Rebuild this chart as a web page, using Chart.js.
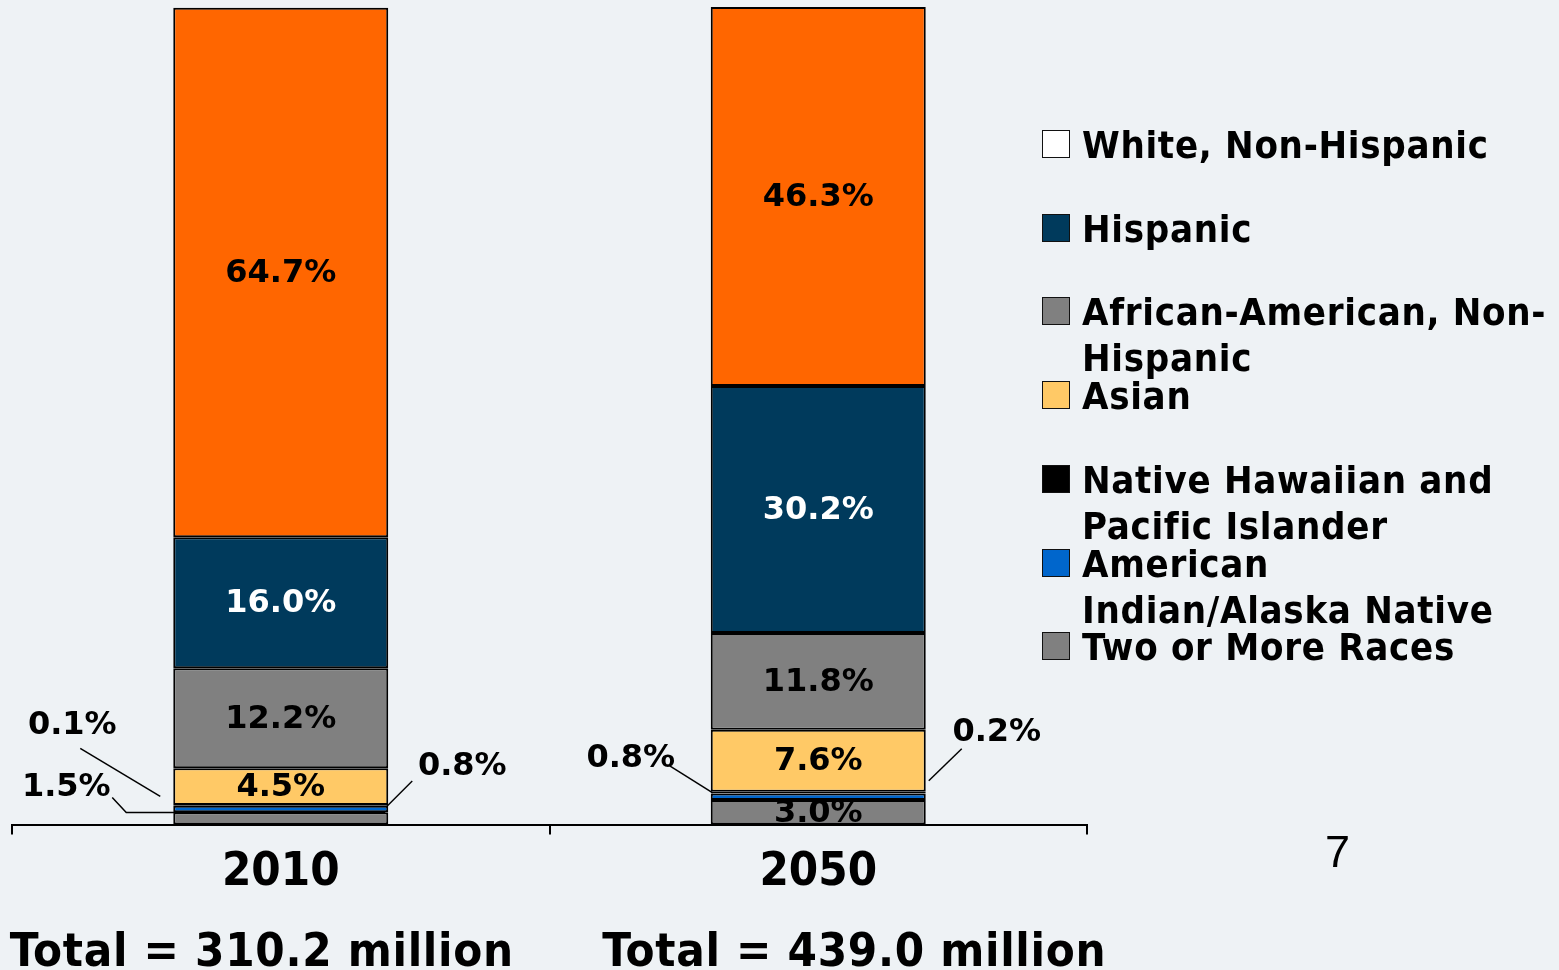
<!DOCTYPE html>
<html>
<head>
<meta charset="utf-8">
<title>Population by race and ethnicity, 2010 and 2050</title>
<script src="https://cdn.jsdelivr.net/npm/chart.js@4.4.1/dist/chart.umd.min.js"></script>
<style>
  html, body { margin: 0; padding: 0; background: #eef2f5; }
  body {
    width: 1559px; height: 970px; position: relative; overflow: hidden;
    font-family: "DejaVu Sans Condensed", "DejaVu Sans", sans-serif;
  }
  #chart-wrap { position: absolute; left: 0; top: 0; width: 1559px; height: 970px; }
  .legend { position: absolute; left: 1042px; top: 130px; }
  .legend-item { position: absolute; left: 0; }
  .legend-swatch {
    position: absolute; left: 0; top: 0; width: 26px; height: 26px;
    border: 1px solid #111;
  }
  .legend-text {
    position: absolute; left: 40px; top: -8px; white-space: nowrap;
    font-weight: bold; font-size: 38px; line-height: 46px; color: #000;
    letter-spacing: 0.7px;
  }
  .slide-no {
    position: absolute; left: 1325px; top: 826px;
    font-family: "Liberation Sans", Arial, sans-serif; font-size: 45px; color: #000;
  }
</style>
</head>
<body>
<div id="chart-wrap"><canvas id="race-chart"></canvas></div>
<div class="legend" id="legend"></div>
<div class="slide-no">7</div>
<script>
const FONT = '"DejaVu Sans Condensed", "DejaVu Sans", sans-serif';
const WIDE_FONT = '"DejaVu Sans", sans-serif';

// categories and totals
const years = ["2010", "2050"];
const totals = ["Total = 310.2 million", "Total = 439.0 million"];

// percent shares, stacked bottom to top
const twoOrMore = [1.5, 3.0];
const amIndian = [0.8, 0.8];
const hawaiian = [0.1, 0.2];
const asian = [4.5, 7.6];
const africanAm = [12.2, 11.8];
const hispanic = [16.0, 30.2];
const whiteNH = [64.7, 46.3];

const seriesNames = [
  ["Two or More Races"],
  ["American", "Indian/Alaska Native"],
  ["Native Hawaiian and", "Pacific Islander"],
  ["Asian"],
  ["African-American, Non-", "Hispanic"],
  ["Hispanic"],
  ["White, Non-Hispanic"],
];
const seriesValues = [twoOrMore, amIndian, hawaiian, asian, africanAm, hispanic, whiteNH];
const barColors = ["#808080", "#0066cc", "#000000", "#ffc966", "#808080", "#003a5c", "#ff6600"];
const swatchColors = ["#808080", "#0066cc", "#000000", "#ffc966", "#808080", "#003a5c", "#ffffff"];
const labelColors = ["#000", "#000", "#000", "#000", "#000", "#fff", "#000"];

// small slices get a leader line instead of an inside label
const INSIDE_MIN = 2.5;
const callouts = [
  { series: 0, year: 0, side: "left", text: [-107, -31], path: [[-61, -21], [-47, -6], [212, -6]] },
  { series: 1, year: 0, side: "right", text: [74, -42], path: [[24, -28], [-2, -2]] },
  { series: 2, year: 0, side: "left", text: [-101, -80], path: [[-93, -57], [-13, -9]] },
  { series: 1, year: 1, side: "left", text: [-80, -38], path: [[-41, -31], [2, -4]] },
  { series: 2, year: 1, side: "right", text: [71, -60], path: [[36, -44], [3, -12]] },
];

function pct(v) {
  return v.toFixed(1) + "%";
}

const segmentLabels = {
  id: "segmentLabels",
  afterDatasetsDraw(chart) {
    const { ctx, chartArea } = chart;
    ctx.save();
    ctx.font = `bold 32px ${WIDE_FONT}`;
    ctx.textAlign = "center";
    ctx.textBaseline = "middle";

    // inside labels, clipped to the plot so the lowest one sinks under the axis
    ctx.save();
    ctx.beginPath();
    ctx.rect(chartArea.left, chartArea.top, chartArea.right - chartArea.left, chartArea.bottom - chartArea.top);
    ctx.clip();
    chart.data.datasets.forEach((ds, di) => {
      chart.getDatasetMeta(di).data.forEach((bar, i) => {
        const v = ds.data[i];
        if (v < INSIDE_MIN) return;
        ctx.fillStyle = labelColors[di];
        ctx.fillText(pct(v), bar.x, (bar.y + bar.base) / 2 + 1);
      });
    });
    ctx.restore();

    // leader lines for the thin slices
    ctx.strokeStyle = "#000";
    ctx.lineWidth = 1.5;
    ctx.fillStyle = "#000";
    callouts.forEach((c) => {
      const bar = chart.getDatasetMeta(c.series).data[c.year];
      const ax = c.side === "left" ? bar.x - bar.width / 2 : bar.x + bar.width / 2;
      const ay = (bar.y + bar.base) / 2;
      ctx.beginPath();
      c.path.forEach(([dx, dy], k) => {
        if (k === 0) ctx.moveTo(ax + dx, ay + dy);
        else ctx.lineTo(ax + dx, ay + dy);
      });
      ctx.stroke();
      ctx.fillText(pct(seriesValues[c.series][c.year]), ax + c.text[0], ay + c.text[1]);
    });
    ctx.restore();
  },
};

const totalLabels = {
  id: "totalLabels",
  afterDraw(chart) {
    const { ctx } = chart;
    const x = chart.scales.x;
    const shift = [-19, 36];
    ctx.save();
    ctx.font = `bold 47px ${FONT}`;
    ctx.letterSpacing = "0.7px";
    ctx.fillStyle = "#000";
    ctx.textAlign = "center";
    ctx.textBaseline = "alphabetic";
    totals.forEach((t, i) => {
      ctx.fillText(t, x.getPixelForValue(i) + shift[i], 966);
    });
    ctx.restore();
  },
};

function buildLegend() {
  const root = document.getElementById("legend");
  const order = [6, 5, 4, 3, 2, 1, 0];
  order.forEach((si, row) => {
    const item = document.createElement("div");
    item.className = "legend-item";
    item.style.top = `${row * 83.7}px`;
    item.innerHTML = `
      <div class="legend-swatch" style="background:${swatchColors[si]}"></div>
      <div class="legend-text">${seriesNames[si].join("<br>")}</div>
    `;
    root.appendChild(item);
  });
}

function renderChart() {
  const canvas = document.getElementById("race-chart");
  new Chart(canvas, {
    type: "bar",
    data: {
      labels: years,
      datasets: seriesValues.map((vals, i) => ({
        label: seriesNames[i].join(" "),
        data: vals,
        backgroundColor: barColors[i],
        borderColor: "#000",
        borderWidth: 2,
        borderSkipped: false,
        barPercentage: 0.4,
        categoryPercentage: 1,
      })),
    },
    options: {
      responsive: true,
      maintainAspectRatio: false,
      animation: false,
      layout: { padding: { left: 12, right: 472, top: 7, bottom: 59 } },
      plugins: { legend: { display: false }, tooltip: { enabled: false } },
      scales: {
        x: {
          stacked: true,
          grid: { display: true, drawOnChartArea: false, drawTicks: true, tickLength: 10, color: "#000", lineWidth: 2, offset: true },
          border: { display: true, color: "#000", width: 2 },
          ticks: { color: "#000", padding: 10, font: { family: FONT, size: 47, weight: "bold" } },
        },
        y: { stacked: true, display: false, min: 0, max: 99.9 },
      },
    },
    plugins: [segmentLabels, totalLabels],
  });
}

document.addEventListener("DOMContentLoaded", () => {
  buildLegend();
  renderChart();
});
</script>
</body>
</html>
